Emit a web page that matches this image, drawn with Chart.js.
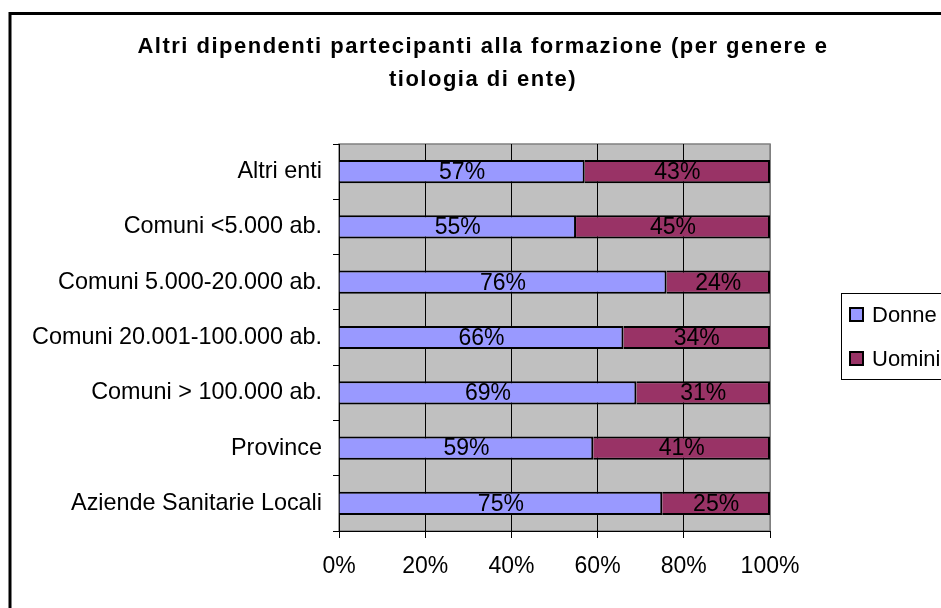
<!DOCTYPE html>
<html>
<head>
<meta charset="utf-8">
<script src="https://cdn.jsdelivr.net/npm/chart.js@4.4.1/dist/chart.umd.min.js"></script>
<style>
  html, body { margin: 0; padding: 0; background: #fff; }
  #wrap { position: relative; width: 941px; height: 608px; }
</style>
</head>
<body>
<div id="wrap"><canvas id="c" width="941" height="608"></canvas></div>
<script>
const titleLines = ["Altri dipendenti partecipanti alla formazione (per genere e", "tiologia di ente)"];
const categories = ["Altri enti", "Comuni <5.000 ab.", "Comuni 5.000-20.000 ab.", "Comuni 20.001-100.000 ab.", "Comuni > 100.000 ab.", "Province", "Aziende Sanitarie Locali"];
const seriesNames = ["Donne", "Uomini"];
const donne = [57, 55, 76, 66, 69, 59, 75];
const uomini = [43, 45, 24, 34, 31, 41, 25];
const xTicks = [0, 20, 40, 60, 80, 100];

const FONT = "'Liberation Sans', Arial, sans-serif";
const colors = ["#9999FF", "#993366"];

const decor = {
  id: 'decor',
  beforeDraw(chart) {
    const ctx = chart.ctx, a = chart.chartArea;
    ctx.save();
    ctx.fillStyle = '#fff';
    ctx.fillRect(0, 0, chart.width, chart.height);
    // frame
    ctx.strokeStyle = '#000';
    ctx.lineWidth = 3;
    ctx.strokeRect(10, 13.5, 960, 640);
    // plot background
    ctx.fillStyle = '#C0C0C0';
    ctx.fillRect(a.left, a.top, a.right - a.left, a.bottom - a.top);
    ctx.strokeStyle = '#808080';
    ctx.lineWidth = 1.5;
    ctx.strokeRect(a.left, a.top, a.right - a.left, a.bottom - a.top);
    // title
    ctx.fillStyle = '#000';
    ctx.font = "bold 22px " + FONT;
    ctx.textAlign = 'center';
    ctx.textBaseline = 'middle';
    if (ctx.letterSpacing !== undefined) ctx.letterSpacing = '1.5px';
    ctx.fillText(titleLines[0], 483, 47);
    ctx.fillText(titleLines[1], 483, 80);
    if (ctx.letterSpacing !== undefined) ctx.letterSpacing = '0px';
    // legend
    ctx.strokeStyle = '#000';
    ctx.lineWidth = 1;
    ctx.strokeRect(841.5, 293.5, 120, 86);
    ctx.font = "22px " + FONT;
    ctx.textAlign = 'left';
    const ly = [315, 359];
    seriesNames.forEach((n, i) => {
      ctx.fillStyle = colors[i];
      ctx.fillRect(850, ly[i] - 7, 13, 13);
      ctx.lineWidth = 2;
      ctx.strokeStyle = '#000';
      ctx.strokeRect(850, ly[i] - 7, 13, 13);
      ctx.fillStyle = '#000';
      ctx.fillText(n, 872, ly[i] + 1);
    });
    ctx.restore();
  },
  afterDatasetsDraw(chart) {
    const ctx = chart.ctx;
    ctx.save();
    ctx.font = "23px " + FONT;
    ctx.fillStyle = '#000';
    ctx.textAlign = 'center';
    ctx.textBaseline = 'middle';
    chart.data.datasets.forEach((ds, di) => {
      const meta = chart.getDatasetMeta(di);
      meta.data.forEach((el, i) => {
        const cx = (el.x + el.base) / 2;
        ctx.fillText(ds.data[i] + '%', cx, el.y + 1);
      });
    });
    ctx.restore();
  }
};

new Chart(document.getElementById('c'), {
  type: 'bar',
  data: {
    labels: categories,
    datasets: [
      { label: seriesNames[0], data: donne, backgroundColor: colors[0], borderColor: '#000', borderWidth: 2, barPercentage: 0.42, categoryPercentage: 1 },
      { label: seriesNames[1], data: uomini, backgroundColor: colors[1], borderColor: '#000', borderWidth: 2, barPercentage: 0.42, categoryPercentage: 1 }
    ]
  },
  options: {
    indexAxis: 'y',
    responsive: false,
    animation: false,
    devicePixelRatio: 1,
    layout: { padding: { left: 0, right: 171, top: 144, bottom: 0 } },
    plugins: { legend: { display: false }, title: { display: false }, tooltip: { enabled: false } },
    scales: {
      x: {
        stacked: true, min: 0, max: 100,
        afterBuildTicks(s) { s.ticks = xTicks.map(v => ({ value: v })); },
        afterFit(s) { s.height = 77; },
        ticks: { callback: v => v + '%', color: '#000', font: { family: FONT, size: 23 }, padding: 15, maxRotation: 0 },
        grid: { color: ctx => (ctx.tick && ctx.tick.value === 100 ? '#808080' : '#000'), lineWidth: 1, drawTicks: true, tickLength: 7, tickColor: '#000' },
        border: { display: true, color: '#000', width: 1 }
      },
      y: {
        stacked: true,
        afterFit(s) { s.width = 339; },
        ticks: { color: '#000', font: { family: FONT, size: 23.4 }, padding: 11 },
        grid: { offset: true, drawOnChartArea: false, drawTicks: true, tickLength: 6, color: '#000' },
        border: { display: true, color: '#000', width: 1 }
      }
    }
  },
  plugins: [decor]
});
</script>
</body>
</html>
